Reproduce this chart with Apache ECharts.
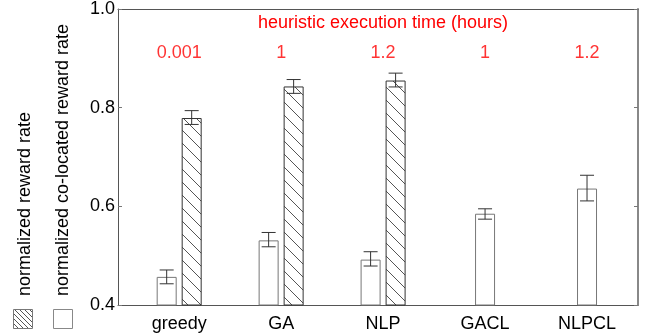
<!DOCTYPE html>
<html>
<head>
<meta charset="utf-8">
<script src="https://cdn.jsdelivr.net/npm/echarts@6/dist/echarts.min.js"></script>
<style>
  html, body { margin: 0; padding: 0; background: #fff; }
  #chart { width: 646px; height: 335px; }
</style>
</head>
<body>
<div id="chart"></div>
<script>
const categories = ['greedy', 'GA', 'NLP', 'GACL', 'NLPCL']
const execTimes = ['0.001', '1', '1.2', '1', '1.2']

// first three heuristics have both bars
const rewardRate = [0.457, 0.531, 0.492]
const rewardLow = [0.443, 0.518, 0.479]
const rewardHigh = [0.471, 0.547, 0.508]

const colocRate = [0.779, 0.843, 0.855]
const colocLow = [0.766, 0.829, 0.842]
const colocHigh = [0.794, 0.857, 0.870]

// GACL / NLPCL only one bar
const clRate = [0.585, 0.636]
const clLow = [0.574, 0.611]
const clHigh = [0.595, 0.663]

const yTicks = [0.4, 0.6, 0.8, 1.0]

const FONT = "'Liberation Sans', Arial, sans-serif"

function hatch (size) {
    let c = document.createElement('canvas')
    c.width = size
    c.height = size
    let ctx = c.getContext('2d')
    ctx.fillStyle = '#fff'
    ctx.fillRect(0, 0, size, size)
    ctx.strokeStyle = '#555'
    ctx.lineWidth = 1
    ctx.beginPath()
    ctx.moveTo(-1, -1)
    ctx.lineTo(size + 1, size + 1)
    ctx.stroke()
    return c
}
const hatchImg = hatch(13)
const hatchSmall = hatch(5)

function errBars (axisIdx, offset, low, high, start) {
    return {
        type: 'custom',
        xAxisIndex: axisIdx,
        z: 5,
        data: low.map((v, i) => [start + i + 1, v, high[i]]),
        renderItem: function (params, api) {
            let top = api.coord([api.value(0), api.value(2)])
            let bot = api.coord([api.value(0), api.value(1)])
            let x = top[0] + offset
            let st = { stroke: '#333', lineWidth: 1 }
            return {
                type: 'group',
                children: [
                    { type: 'line', shape: { x1: x, y1: top[1], x2: x, y2: bot[1] }, style: st },
                    { type: 'line', shape: { x1: x - 7, y1: top[1], x2: x + 7, y2: top[1] }, style: st },
                    { type: 'line', shape: { x1: x - 7, y1: bot[1], x2: x + 7, y2: bot[1] }, style: st }
                ]
            }
        }
    }
}

let myChart = echarts.init(document.getElementById('chart'))

myChart.setOption({
    animation: false,
    textStyle: { fontFamily: FONT },
    grid: { left: 118, right: 8, top: 8, bottom: 30, containLabel: false },
    title: {
        text: 'heuristic execution time (hours)',
        left: 253, top: 9,
        textStyle: { color: '#ff0000', fontSize: 18, fontWeight: 'normal', fontFamily: FONT }
    },
    xAxis: [{
        type: 'value', min: 0.4, max: 5.5,
        splitLine: { show: false },
        axisLine: { show: true, onZero: false, lineStyle: { color: '#555' } },
        axisTick: { show: false },
        axisLabel: {
            customValues: [1, 2, 3, 4, 5],
            formatter: v => categories[Math.round(v) - 1],
            color: '#000', fontSize: 18, margin: 10, fontFamily: FONT
        }
    }, {
        type: 'value', min: 0.4, max: 5.5, position: 'top',
        splitLine: { show: false },
        axisLine: { show: true, onZero: false, lineStyle: { color: '#555' } },
        axisTick: { show: false },
        axisLabel: { show: false }
    }],
    yAxis: [{
        type: 'value', min: 0.4, max: 1.0, interval: 0.2,
        splitLine: { show: false },
        axisLine: { show: true, lineStyle: { color: '#555' } },
        axisTick: { show: true, inside: true, length: 4, lineStyle: { color: '#777' } },
        axisLabel: {
            customValues: yTicks,
            formatter: v => v.toFixed(1),
            color: '#000', fontSize: 18, margin: 3, fontFamily: FONT
        }
    }, {
        type: 'value', min: 0.4, max: 1.0, interval: 0.2, position: 'right',
        splitLine: { show: false },
        axisLine: { show: true, lineStyle: { color: '#888', width: 2 } },
        axisTick: { show: true, inside: true, length: 4, lineStyle: { color: '#777' } },
        axisLabel: { show: false }
    }],
    series: [{
        type: 'bar',
        xAxisIndex: 0,
        barWidth: 20,
        barGap: '25%',
        data: rewardRate.map((v, i) => [i + 1, v]),
        itemStyle: { color: '#fff', borderColor: '#777', borderWidth: 1 }
    }, {
        type: 'bar',
        xAxisIndex: 0,
        barWidth: 20,
        barGap: '25%',
        data: colocRate.map((v, i) => [i + 1, v]),
        itemStyle: { color: { image: hatchImg, repeat: 'repeat' }, borderColor: '#333', borderWidth: 1 }
    }, {
        type: 'bar',
        xAxisIndex: 1,
        barWidth: 20,
        data: clRate.map((v, i) => [i + 4, v]),
        itemStyle: { color: '#fff', borderColor: '#777', borderWidth: 1 }
    },
    errBars(0, -12.5, rewardLow, rewardHigh, 0),
    errBars(0, 12.5, colocLow, colocHigh, 0),
    errBars(1, 0, clLow, clHigh, 3),
    {
        type: 'scatter',
        xAxisIndex: 0,
        symbolSize: 0,
        data: execTimes.map((t, i) => [i + 1, 0.911]),
        label: {
            show: true, position: 'inside',
            formatter: p => execTimes[p.dataIndex],
            color: '#ff0000', fontSize: 18, fontFamily: FONT
        }
    }],
    graphic: [{
        type: 'text', x: 25, y: 296, rotation: Math.PI / 2,
        style: { text: 'normalized reward rate', font: '18px ' + FONT, fill: '#000', textAlign: 'left', textVerticalAlign: 'middle' }
    }, {
        type: 'text', x: 63, y: 296, rotation: Math.PI / 2,
        style: { text: 'normalized co-located reward rate', font: '18px ' + FONT, fill: '#000', textAlign: 'left', textVerticalAlign: 'middle' }
    }, {
        type: 'rect', shape: { x: 13.5, y: 309.5, width: 19, height: 19 },
        style: { fill: { image: hatchSmall, repeat: 'repeat' }, stroke: '#777', lineWidth: 1 }
    }, {
        type: 'rect', shape: { x: 53.5, y: 309.5, width: 19, height: 19 },
        style: { fill: '#fff', stroke: '#888', lineWidth: 1 }
    }]
})
</script>
</body>
</html>
